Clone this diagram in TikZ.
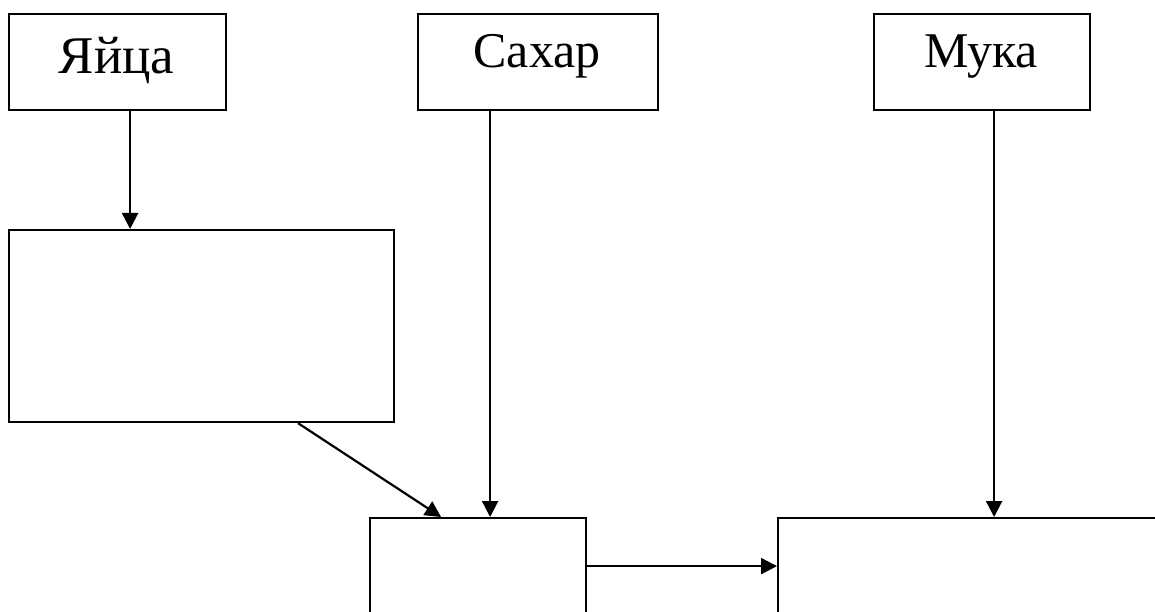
\documentclass[tikz,border=0pt]{standalone}
\usepackage{fontspec}
\setmainfont{Liberation Serif}
\newfontfamily\labelfont{Liberation Serif}
\usetikzlibrary{arrows.meta,calc}
\begin{document}
\begin{tikzpicture}[x=1pt,y=-1pt,
  box/.style={draw, line width=2.2pt, inner sep=0pt, anchor=north west},
  arr/.style={line width=2.2pt, -{Triangle[length=16pt,width=16pt]}},
  lbl/.style={anchor=base, inner sep=0pt}]
\useasboundingbox (0,0) rectangle (1155,612);
\clip (0,0) rectangle (1155,612);
\fill[white] (0,0) rectangle (1155,612);
% top boxes
\node[box, minimum width=217pt, minimum height=96pt] (eggs) at (8,13) {};
\node[box, minimum width=240pt, minimum height=96pt] (sugar) at (417,13) {};
\node[box, minimum width=216pt, minimum height=96pt] (flour) at (873,13) {};
\node[lbl, font=\labelfont\fontsize{53}{60}\selectfont] (teggs) at (116.5,74) {Яйца};
\node[lbl, font=\labelfont\fontsize{50}{58}\selectfont] (tsugar) at (537,68) {Сахар};
\node[lbl, font=\labelfont\fontsize{50}{58}\selectfont] (tflour) at (981,68) {Мука};
% middle box
\node[box, minimum width=385pt, minimum height=192pt] (beaten) at (8,229) {};
% bottom boxes (cut by the picture edge)
\node[box, minimum width=216pt, minimum height=200pt] (mix) at (369,517) {};
\node[box, minimum width=500pt, minimum height=200pt] (dough) at (777,517) {};
% connectors
\draw[arr] ([xshift=12.5pt]eggs.south) -- ([xshift=-71.5pt]beaten.north);
\draw[arr] ([xshift=-48pt]sugar.south) -- ([xshift=12pt]mix.north);
\draw[arr] ([xshift=12pt]flour.south) -- ([xshift=-34pt]dough.north);
\draw[arr] ([xshift=96.5pt]beaten.south) -- ([xshift=-37pt]mix.north);
\draw[arr] ([yshift=52pt]mix.east) -- ([yshift=52pt]dough.west);
\end{tikzpicture}
\end{document}
